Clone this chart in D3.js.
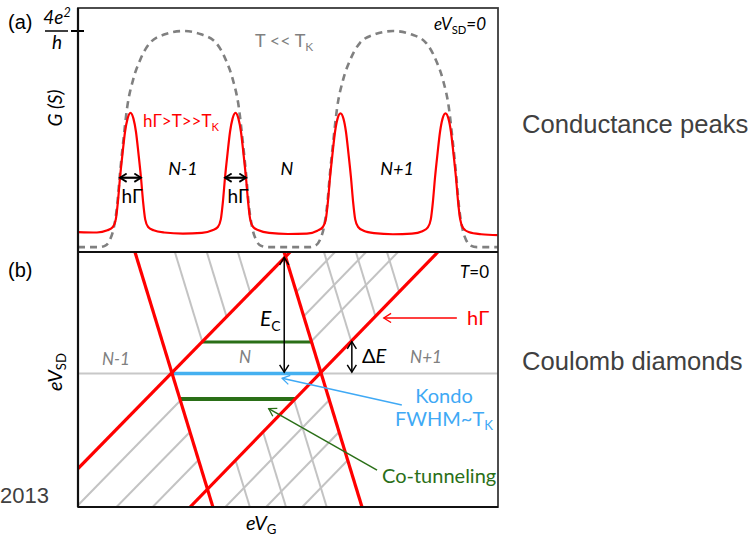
<!DOCTYPE html>
<html><head><meta charset="utf-8">
<script src="https://cdn.jsdelivr.net/npm/d3@7"></script>
<style>body{margin:0;background:#fff}</style>
</head><body>
<script>
// ---------------- DATA ----------------
// gate voltage in arbitrary units (0..100), conductance in units of 4e^2/h
const redCurve = [
 [0,0.082],[4.5,0.08],[7,0.09],[8.3,0.105],[9,0.14],[9.5,0.22],[10,0.33],[10.6,0.44],[11.2,0.54],[11.8,0.60],[12.5,0.626],[13.2,0.60],[13.8,0.54],[14.4,0.44],[15,0.33],[15.5,0.22],[16,0.14],[16.7,0.105],[18,0.09],[20.5,0.08],[25,0.075],
 [29.5,0.078],[32,0.09],[33.3,0.105],[34,0.14],[34.5,0.22],[35,0.33],[35.6,0.44],[36.2,0.54],[36.8,0.60],[37.5,0.626],[38.2,0.60],[38.8,0.54],[39.4,0.44],[40,0.33],[40.5,0.22],[41,0.14],[41.7,0.105],[43,0.09],[45.5,0.078],[50,0.073],
 [54.5,0.075],[57,0.088],[58.3,0.105],[59,0.14],[59.5,0.22],[60,0.33],[60.6,0.44],[61.2,0.54],[61.8,0.60],[62.5,0.624],[63.2,0.60],[63.8,0.54],[64.4,0.44],[65,0.33],[65.5,0.22],[66,0.14],[66.7,0.105],[68,0.088],[70.5,0.077],[75,0.072],
 [79.5,0.075],[82,0.086],[83.3,0.103],[84,0.14],[84.5,0.22],[85,0.33],[85.6,0.44],[86.2,0.54],[86.8,0.60],[87.5,0.624],[88.2,0.60],[88.8,0.54],[89.4,0.44],[90,0.33],[90.5,0.22],[91,0.14],[91.7,0.1],[93,0.082],[96,0.072],[100,0.068]
];
const grayCurve = [
 [0,0.013],[5,0.013],[6.5,0.02],[7.6,0.046],[8.5,0.1],[9.3,0.2],[10,0.35],[10.8,0.5],[11.7,0.65],[13.1,0.776],[14.8,0.868],[17.1,0.945],[20.7,0.985],[25,1.0],[29.3,0.985],[32.9,0.945],[35.2,0.868],[36.9,0.776],[38.3,0.65],[39.2,0.5],[40,0.35],[40.7,0.2],[41.5,0.1],[42.4,0.046],[43.5,0.02],[45,0.013],
 [55,0.013],[56.5,0.02],[57.6,0.046],[58.5,0.1],[59.3,0.2],[60,0.35],[60.8,0.5],[61.7,0.65],[63.1,0.776],[64.8,0.868],[67.1,0.945],[70.7,0.985],[75,1.0],[79.3,0.985],[82.9,0.945],[85.2,0.868],[86.9,0.776],[88.3,0.65],[89.2,0.5],[90,0.35],[90.7,0.2],[91.5,0.1],[92.4,0.046],[93.5,0.02],[95,0.013],[100,0.013]
];
const widthArrows = [[10,15],[35,40]];   // hΓ widths at G=0.33
const widthArrowLevel = 0.33;
const topTicks = [1];

// Coulomb diamond lines: [gate1, bias1, gate2, bias2]
const redLines = [
 [13.56,1.0,32.12,-1.1],
 [0,-0.784,50.5,1.0],
 [49.06,1.0,67.62,-1.1],
 [26.69,-1.1,85.7,1.0]
];
const hatchLines = [
 [23.06,1.0,29.59,0.261],[30.66,1.0,35.39,0.466],[38.06,1.0,41.02,0.665],
 [58.56,1.0,65.05,0.265],[66.16,1.0,70.83,0.471],[73.56,1.0,76.46,0.671],
 [55.56,0.265,76.2,1.0],[53.74,0.471,68.6,1.0],[51.97,0.671,61.2,1.0],
 [24.38,-0.2235,0,-1.085],[26.66,-0.482,9.17,-1.1],[28.7,-0.713,17.77,-1.1],
 [51.45,-0.219,59.22,-1.1],[44.06,-0.482,49.52,-1.1],[37.5,-0.715,40.92,-1.1],
 [59.84,-0.219,35.09,-1.1],[62.16,-0.482,44.79,-1.1],[64.22,-0.715,53.39,-1.1]
];
const cotunnel = [[29.5,55.6,0.258],[24.3,51.7,-0.211]];
const kondo = [22.4,57.9,0];
const ecArrow = [49.1,0.955,0.01];
const dEArrow = [65.2,0.262,0.01];

// ---------------- DRAW ----------------
const W=749,H=538;
const svg=d3.select('body').append('svg').attr('width',W).attr('height',H).style('background','#fff');
const defs=svg.append('defs');
function marker(id,color,size,sw){
  defs.append('marker').attr('id',id).attr('viewBox','-10 -6 12 12').attr('refX',0).attr('refY',0)
   .attr('markerWidth',size).attr('markerHeight',size).attr('markerUnits','userSpaceOnUse').attr('orient','auto-start-reverse')
   .append('path').attr('d','M-8,-5 L0,0 L-8,5').attr('fill','none').attr('stroke',color).attr('stroke-width',sw);
}
marker('mk','#000',11,1.6);
marker('mkB','#000',10,2.2);
marker('mr','#ff0000',11,1.4);
marker('mb','#3fa9f5',11,1.4);
marker('mg','#2a6f17',11,1.4);

const x=d3.scaleLinear().domain([0,100]).range([78,498]);
const yT=d3.scaleLinear().domain([0,1]).range([250,31]);
const yB=d3.scaleLinear().domain([-1.1,1]).range([507,252]);

// top panel
const topG=svg.append('g');
defs.append('clipPath').attr('id','ct').append('rect').attr('x',78).attr('y',8).attr('width',420).attr('height',244);
const tg=topG.append('g').attr('clip-path','url(#ct)');
const line=d3.line().x(d=>x(d[0])).y(d=>yT(d[1])).curve(d3.curveMonotoneX);
tg.append('path').attr('d',line(grayCurve)).attr('fill','none').attr('stroke','#808080').attr('stroke-width',2.6).attr('stroke-dasharray','7,5');
tg.append('path').attr('d',line(redCurve)).attr('fill','none').attr('stroke','#ff0000').attr('stroke-width',2.2);
widthArrows.forEach(a=>{
  topG.append('line').attr('x1',x(a[0])).attr('x2',x(a[1])).attr('y1',yT(widthArrowLevel)).attr('y2',yT(widthArrowLevel))
   .attr('stroke','#000').attr('stroke-width',2.2).attr('marker-start','url(#mkB)').attr('marker-end','url(#mkB)');
});
topTicks.forEach(t=>{
  topG.append('line').attr('x1',71).attr('x2',84).attr('y1',yT(t)).attr('y2',yT(t)).attr('stroke','#000').attr('stroke-width',2);
});

// bottom panel
defs.append('clipPath').attr('id','cb').append('rect').attr('x',78).attr('y',252).attr('width',420).attr('height',255);
const bg=svg.append('g').attr('clip-path','url(#cb)');
bg.append('line').attr('x1',x(0)).attr('x2',x(100)).attr('y1',yB(0)).attr('y2',yB(0)).attr('stroke','#c8c8c8').attr('stroke-width',2);
bg.selectAll('.h').data(hatchLines).enter().append('line')
 .attr('x1',d=>x(d[0])).attr('y1',d=>yB(d[1])).attr('x2',d=>x(d[2])).attr('y2',d=>yB(d[3]))
 .attr('stroke','#c3c3c3').attr('stroke-width',2);
bg.selectAll('.g').data(cotunnel).enter().append('line')
 .attr('x1',d=>x(d[0])).attr('x2',d=>x(d[1])).attr('y1',d=>yB(d[2])).attr('y2',d=>yB(d[2]))
 .attr('stroke','#2a6f17').attr('stroke-width',(d,i)=>i?4:3);
bg.append('line').attr('x1',x(kondo[0])).attr('x2',x(kondo[1])).attr('y1',yB(kondo[2])).attr('y2',yB(kondo[2]))
 .attr('stroke','#45b0f0').attr('stroke-width',3.5);
bg.selectAll('.r').data(redLines).enter().append('line')
 .attr('x1',d=>x(d[0])).attr('y1',d=>yB(d[1])).attr('x2',d=>x(d[2])).attr('y2',d=>yB(d[3]))
 .attr('stroke','#ff0000').attr('stroke-width',3.2);
// arrows
svg.append('line').attr('x1',x(ecArrow[0])).attr('x2',x(ecArrow[0])).attr('y1',yB(ecArrow[1])).attr('y2',yB(ecArrow[2]))
 .attr('stroke','#000').attr('stroke-width',1.5).attr('marker-start','url(#mk)').attr('marker-end','url(#mk)');
svg.append('line').attr('x1',x(dEArrow[0])).attr('x2',x(dEArrow[0])).attr('y1',yB(dEArrow[1])).attr('y2',yB(dEArrow[2]))
 .attr('stroke','#000').attr('stroke-width',1.5).attr('marker-start','url(#mk)').attr('marker-end','url(#mk)');
function arrow(x1,y1,x2,y2,c,m){svg.append('line').attr('x1',x(x1)).attr('y1',yB(y1)).attr('x2',x(x2)).attr('y2',yB(y2)).attr('stroke',c).attr('stroke-width',1.5).attr('marker-end','url(#'+m+')');}
arrow(90.2,0.457,72.8,0.457,'#ff0000','mr');
arrow(77.1,-0.26,48.6,-0.04,'#3fa9f5','mb');
arrow(71.2,-0.796,45.4,-0.29,'#2a6f17','mg');

// frames
svg.append('rect').attr('x',78).attr('y',8).attr('width',420).attr('height',499).attr('fill','none').attr('stroke','#3a3a3a').attr('stroke-width',1.8);
svg.append('line').attr('x1',78).attr('x2',498).attr('y1',252).attr('y2',252).attr('stroke','#111').attr('stroke-width',2);
svg.append('line').attr('x1',78).attr('x2',78).attr('y1',8).attr('y2',507).attr('stroke','#111').attr('stroke-width',2.2);
svg.append('line').attr('x1',78).attr('x2',498).attr('y1',507).attr('y2',507).attr('stroke','#111').attr('stroke-width',2.2);
svg.append('line').attr('x1',45).attr('x2',68).attr('y1',31).attr('y2',31).attr('stroke','#000').attr('stroke-width',1.5);

// text helper
function rich(px,py,parts,size,o={}){
  const t=svg.append('text').attr('x',px).attr('y',py).attr('font-size',size)
   .attr('font-family',o.family||'Lato, sans-serif').attr('fill',o.fill||'#000').attr('text-anchor',o.anchor||'start');
  if(o.transform) t.attr('transform',o.transform).attr('x',0).attr('y',0);
  let shift=0;
  parts.forEach(p=>{
    const s=(typeof p==='string')?{t:p}:p;
    const ts=t.append('tspan').text(s.t);
    if(s.i) ts.attr('font-style','italic');
    let target=0;
    if(s.sub){ts.attr('font-size',size*0.66); target=size*0.22;}
    if(s.sup){ts.attr('font-size',size*0.66); target=-size*0.38;}
    if(target!==shift){ts.attr('dy',target-shift); shift=target;}
  });
  return t;
}
const gray='#808080', dark='#404040', red='#ff0000', blue='#3fa9f5', green='#2a6f17';
rich(8,29,['(a)'],20,{family:'Liberation Sans, Arial'});
rich(8,277,['(b)'],20,{family:'Liberation Sans, Arial'});
rich(57,24,[{t:'4e',i:1},{t:'2',i:1,sup:1}],19,{anchor:'middle'});
rich(57,49,[{t:'h',i:1}],19,{anchor:'middle'});
rich(0,0,[{t:'G',i:1},{t:' (',i:1},{t:'S',i:1},{t:')',i:1}],19,{anchor:'middle',transform:'translate(62,108) rotate(-90)'});
rich(0,0,[{t:'eV',i:1},{t:'SD',sub:1}],20,{anchor:'middle',transform:'translate(62,372) rotate(-90)'});
rich(246,530,[{t:'eV',i:1},{t:'G',sub:1}],20);
rich(255,47,['T << T',{t:'K',sub:1}],18,{fill:gray});
rich(434,30,[{t:'eV',i:1},{t:'SD',sub:1},{t:'=0',i:1}],17);
rich(143,127,['hΓ>T>>T',{t:'K',sub:1}],17,{fill:red});
rich(183,175,[{t:'N-1',i:1}],18,{anchor:'middle'});
rich(287,175,[{t:'N',i:1}],18,{anchor:'middle'});
rich(397,175,[{t:'N+1',i:1}],18,{anchor:'middle'});
rich(132,203,['hΓ'],19,{anchor:'middle'});
rich(238,203,['hΓ'],19,{anchor:'middle'});
rich(116,365,[{t:'N-1',i:1}],17,{anchor:'middle',fill:gray});
rich(245,363,[{t:'N',i:1}],17,{anchor:'middle',fill:gray});
rich(426,363,[{t:'N+1',i:1}],17,{anchor:'middle',fill:gray});
rich(460,278,[{t:'T',i:1},'=0'],17);
rich(260,326,[{t:'E',i:1},{t:'C',sub:1}],21);
rich(362,363,['Δ',{t:'E',i:1}],20);
rich(467,325,['hΓ'],20,{fill:red});
rich(444,403,['Kondo'],20,{anchor:'middle',fill:blue});
rich(444,426,['FWHM~T',{t:'K',sub:1}],20,{anchor:'middle',fill:blue});
rich(382,483,['Co-tunneling'],20,{fill:green});
rich(522,133,['Conductance peaks'],25.6,{family:'Liberation Sans, Arial',fill:dark});
rich(522,370,['Coulomb diamonds'],25.6,{family:'Liberation Sans, Arial',fill:dark});
rich(0,503,['2013'],22,{family:'Liberation Sans, Arial',fill:dark});
</script>
</body></html>
